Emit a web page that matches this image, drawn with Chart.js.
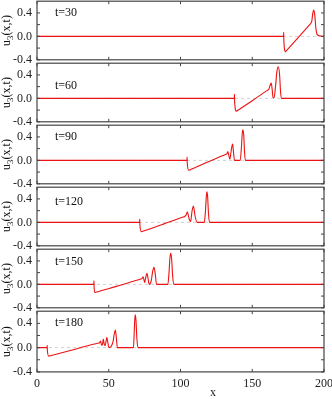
<!DOCTYPE html>
<html>
<head>
<meta charset="utf-8">
<script src="https://cdn.jsdelivr.net/npm/chart.js@4.4.1/dist/chart.umd.min.js"></script>
<style>
  html, body { margin: 0; padding: 0; background: #fff; width: 332px; height: 399px; overflow: hidden; }
  #wrap { position: relative; width: 332px; height: 399px; overflow: hidden; }
  canvas { position: absolute; left: 0; }
</style>
</head>
<body>
<div id="wrap"></div>
<script>
// Data: one profile u3(x) per time snapshot
const times = [30, 60, 90, 120, 150, 180];

const x30 = [0, 171.8, 171.9, 172.0, 173.2, 173.7, 182.0, 190.2, 190.7, 191.5, 192.1, 192.8, 193.5, 194.3, 195.3, 197.0, 200];
const u30 = [0, 0, 0.07, -0.06, -0.26, -0.246, -0.02, 0.206, 0.22, 0.26, 0.38, 0.45, 0.38, 0.15, 0.03, 0.01, 0];

const x60 = [0, 137.5, 137.6, 137.7, 139.0, 139.5, 150.0, 160.2, 160.7, 161.6, 162.4, 163.2, 163.9, 164.5, 165.2, 166.2, 167.2, 168.1, 169.0, 169.7, 170.3, 200];
const u60 = [0, 0, 0.07, -0.05, -0.22, -0.212, -0.04, 0.132, 0.14, 0.16, 0.22, 0.26, 0.15, 0.01, 0.01, 0.2, 0.46, 0.54, 0.42, 0.12, 0, 0];

const x90 = [0, 104.5, 104.6, 104.7, 105.8, 106.3, 119.0, 131.8, 132.3, 133.0, 133.7, 134.4, 135.4, 136.3, 137.0, 137.6, 141.6, 142.4, 143.0, 143.5, 144.1, 144.6, 145.2, 200];
const u90 = [0, 0, 0.055, -0.04, -0.17, -0.165, -0.03, 0.105, 0.11, 0.15, 0.08, 0.02, 0.18, 0.28, 0.12, 0, 0, 0.2, 0.45, 0.52, 0.42, 0.15, 0, 0];

const x120 = [0, 71.5, 71.6, 71.7, 72.7, 73.2, 88.0, 102.4, 102.9, 104.0, 104.8, 105.8, 107.0, 108.1, 109.0, 110.2, 111.6, 116.6, 117.4, 118.0, 118.4, 118.9, 119.5, 120.2, 200];
const u120 = [0, 0, 0.055, -0.04, -0.16, -0.156, -0.03, 0.096, 0.10, 0.13, 0.18, 0.08, 0.01, 0.2, 0.28, 0.1, 0, 0, 0.2, 0.44, 0.52, 0.44, 0.15, 0, 0];

const x150 = [0, 39.6, 39.7, 39.8, 40.4, 40.9, 56.0, 71.8, 72.3, 73.2, 74.0, 75.0, 75.8, 76.6, 77.4, 78.2, 79.6, 80.6, 81.5, 82.4, 83.3, 91.2, 92.0, 92.6, 93.2, 93.8, 94.5, 95.3, 200];
const u150 = [0, 0, 0.06, -0.04, -0.14, -0.136, -0.03, 0.086, 0.09, 0.1, 0.13, 0.03, 0.12, 0.19, 0.1, 0, 0.06, 0.22, 0.29, 0.18, 0, 0, 0.2, 0.44, 0.53, 0.44, 0.15, 0, 0];

const x180 = [0, 7.0, 7.1, 7.2, 8.2, 8.7, 26.0, 43.1, 43.6, 44.3, 45.0, 45.6, 46.2, 46.8, 47.5, 48.1, 48.7, 49.4, 50.1, 53.0, 53.8, 54.6, 55.3, 56.0, 67.2, 67.7, 68.1, 68.5, 69.0, 69.6, 70.4, 200];
const u180 = [0, 0, 0.04, -0.04, -0.14, -0.137, -0.03, 0.077, 0.08, 0.11, 0.04, 0.05, 0.14, 0.06, 0.03, 0.1, 0.17, 0.08, 0, 0.1, 0.22, 0.29, 0.16, 0, 0, 0.22, 0.45, 0.54, 0.44, 0.15, 0, 0];

const profileX = [x30, x60, x90, x120, x150, x180];
const profileU = [u30, u60, u90, u120, u150, u180];

// Axis ticks
const xTicks = [0, 50, 100, 150, 200];
const yTicks = [-0.4, -0.2, 0, 0.2, 0.4];
const yLabelled = [-0.4, 0, 0.4];

// Layout
const canvasW = 344;
const plotLeft = 37;
const plotRight = 324;
const panelTop0 = -1;
const panelH = 62.15;
const canvasBottom = 403;
const labelLevel = [0.4, 0.21, 0.4, 0.35, 0.385, 0.4];   // where the t= label sits in each panel
const frameColor = '#444';
const lineColor = '#ee1111';
const serif = "'Liberation Serif', 'DejaVu Serif', serif";

// Frame, inward ticks, zero line and labels
const panelDecor = {
    id: 'panelDecor',
    beforeDatasetsDraw(chart) {
        const { ctx, chartArea: a, scales: { y } } = chart;
        const y0 = y.getPixelForValue(0);
        ctx.save();
        ctx.strokeStyle = '#d0d0d0';
        ctx.lineWidth = 1;
        ctx.setLineDash([3, 3]);
        ctx.beginPath();
        ctx.moveTo(a.left, y0);
        ctx.lineTo(a.right, y0);
        ctx.stroke();
        ctx.restore();
    },
    afterDatasetsDraw(chart, args, opts) {
        const { ctx, chartArea: a, scales: { x, y } } = chart;
        ctx.save();
        ctx.strokeStyle = frameColor;
        ctx.lineWidth = 1.2;
        ctx.strokeRect(a.left, a.top, a.right - a.left, a.bottom - a.top);

        ctx.lineWidth = 1;
        ctx.beginPath();
        yTicks.forEach(v => {
            const py = y.getPixelForValue(v);
            ctx.moveTo(a.left, py); ctx.lineTo(a.left + 3, py);
            ctx.moveTo(a.right, py); ctx.lineTo(a.right - 3, py);
        });
        xTicks.forEach(v => {
            const px = x.getPixelForValue(v);
            ctx.moveTo(px, a.top); ctx.lineTo(px, a.top + 3);
            ctx.moveTo(px, a.bottom); ctx.lineTo(px, a.bottom - 3);
        });
        ctx.stroke();

        // t= label
        ctx.fillStyle = '#111';
        ctx.font = '12px ' + serif;
        ctx.textAlign = 'left';
        ctx.textBaseline = 'middle';
        ctx.fillText('t=' + opts.time, 55, y.getPixelForValue(opts.level));

        // x title under the last panel
        if (opts.last) {
            ctx.fillStyle = '#222';
            ctx.textAlign = 'center';
            ctx.fillText('x', 213, a.bottom + 21);
        }

        // y title u3(x,t) with subscript
        const mid = (a.top + a.bottom) / 2;
        ctx.translate(9.5, mid);
        ctx.rotate(-Math.PI / 2);
        ctx.textAlign = 'left';
        ctx.textBaseline = 'alphabetic';
        ctx.fillStyle = '#111';
        const fMain = '12px ' + serif;
        const fSub = '9px ' + serif;
        ctx.font = fMain;
        const wU = ctx.measureText('u').width;
        const wRest = ctx.measureText('(x,t)').width;
        ctx.font = fSub;
        const wSub = ctx.measureText('3').width;
        let cx = -(wU + wSub + wRest) / 2;
        ctx.font = fMain;
        ctx.fillText('u', cx, 0);
        cx += wU;
        ctx.font = fSub;
        ctx.fillText('3', cx, 3);
        cx += wSub;
        ctx.font = fMain;
        ctx.fillText('(x,t)', cx, 0);
        ctx.restore();
    }
};

const wrap = document.getElementById('wrap');

times.forEach((t, k) => {
    const last = k === times.length - 1;
    const top = panelTop0 + k * panelH;
    const bottom = top + panelH;
    const canvasTop = Math.floor(top) - 10;
    const canvasH = last ? canvasBottom - canvasTop : Math.ceil(bottom) + 10 - canvasTop;

    const canvas = document.createElement('canvas');
    canvas.width = canvasW;
    canvas.height = canvasH;
    canvas.style.top = canvasTop + 'px';
    wrap.appendChild(canvas);

    const points = profileX[k].map((xv, i) => ({ x: xv, y: profileU[k][i] }));

    new Chart(canvas, {
        type: 'line',
        data: {
            datasets: [{
                data: points,
                borderColor: lineColor,
                borderWidth: 1.1,
                pointRadius: 0,
                cubicInterpolationMode: 'monotone',
                fill: false
            }]
        },
        options: {
            responsive: false,
            animation: false,
            layout: {
                padding: {
                    top: top - canvasTop,
                    bottom: last ? 0 : canvasH - (bottom - canvasTop),
                    left: 0,
                    right: canvasW - plotRight
                }
            },
            scales: {
                x: {
                    type: 'linear',
                    min: 0,
                    max: 200,
                    display: last,
                    afterFit: s => { if (last) s.height = canvasBottom - bottom; },
                    grid: { display: false, drawTicks: false },
                    border: { display: false },
                    ticks: {
                        stepSize: 50,
                        padding: 5,
                        color: '#222',
                        font: { family: serif, size: 12 }
                    }
                },
                y: {
                    min: -0.4,
                    max: 0.6,
                    afterFit: s => { s.width = plotLeft; },
                    grid: { display: false, drawTicks: false },
                    border: { display: false },
                    ticks: {
                        stepSize: 0.2,
                        autoSkip: false,
                        padding: 5,
                        color: '#222',
                        font: { family: serif, size: 12 },
                        callback: v => yLabelled.some(l => Math.abs(l - v) < 1e-6) ? v.toFixed(1) : ''
                    }
                }
            },
            plugins: {
                legend: { display: false },
                tooltip: { enabled: false },
                panelDecor: { time: t, level: labelLevel[k], last: last }
            }
        },
        plugins: [panelDecor]
    });
});
</script>
</body>
</html>
